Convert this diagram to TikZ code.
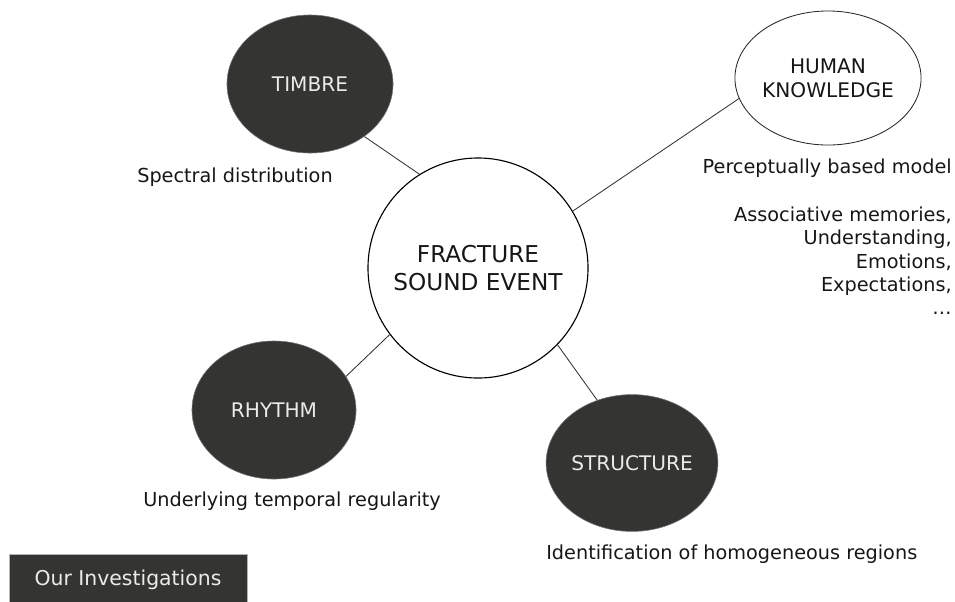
\documentclass[tikz,border=0pt]{standalone}
\usepackage{fontspec}
\setmainfont{DejaVu Sans}
\usetikzlibrary{positioning}
\usetikzlibrary{shapes.geometric}

\definecolor{blobfill}{RGB}{52,53,50}
\definecolor{blobtext}{RGB}{236,236,230}
\definecolor{inktext}{RGB}{22,22,22}

\begin{document}
\begin{tikzpicture}[x=0.025cm, y=-0.025cm]

  \tikzset{
    topic/.style={draw=black!55, ellipse, fill=blobfill, text=blobtext, inner sep=0pt, minimum width=4.1cm, minimum height=3.45cm, font=\fontsize{14.3}{17}\selectfont},
    remark/.style={inner sep=0pt, text=inktext, font=\fontsize{13.7}{16.4}\selectfont},
    link/.style={draw=black!80, line width=0.6pt}
  }

  \useasboundingbox (0,0) rectangle (955,601);

  % Centre event

  \node[draw, circle, line width=0.8pt, minimum size=5.5cm, inner sep=0pt, align=center, text=inktext, font=\fontsize{16.5}{19.5}\selectfont] (fracture) at (478,268) {FRACTURE \\ SOUND EVENT};

  % Topics round it

  \node[topic, minimum width=4.15cm] (timbre) at (310,84) {TIMBRE};
  \node[remark, anchor=west] (timbre-note) at (137,177) {Spectral distribution};

  \node[topic] (rhythm) at (274,410) {RHYTHM};
  \node[remark, anchor=west] (rhythm-note) at (143,501) {Underlying temporal regularity};

  \node[topic, minimum width=4.12cm, minimum height=3.42cm] (structure) at (632,463) {STRUCTURE};
  \node[remark, anchor=west] (structure-note) at (546,554) {Identification of homogeneous regions};

  \node[draw=black!85, ellipse, line width=0.6pt, minimum width=4.1cm, minimum height=3.35cm, inner sep=0pt, align=center, text=inktext, font=\fontsize{14.3}{17}\selectfont] (human) at (828,78) {HUMAN \\ KNOWLEDGE};
  \node[remark, anchor=east] (human-note) at (952,168) {Perceptually based model};
  \node[remark, anchor=north east, align=right] (human-list) at (952,207) {Associative memories, \\ Understanding, \\ Emotions, \\ Expectations, \\ \dots};

  % Connectors

  \draw[link] (timbre.316) -- (fracture.122);
  \draw[link] (human.193) -- (fracture.31);
  \draw[link] (rhythm.25) -- (fracture.217);
  \draw[link] (structure.119) -- (fracture.316);

  % Tag

  \node[fill=blobfill, draw=black!30, text=blobtext, minimum width=5.95cm, minimum height=1.3cm, inner sep=0pt, font=\fontsize{14.5}{17}\selectfont] (tag) at (128,580) {Our Investigations};

\end{tikzpicture}
\end{document}
